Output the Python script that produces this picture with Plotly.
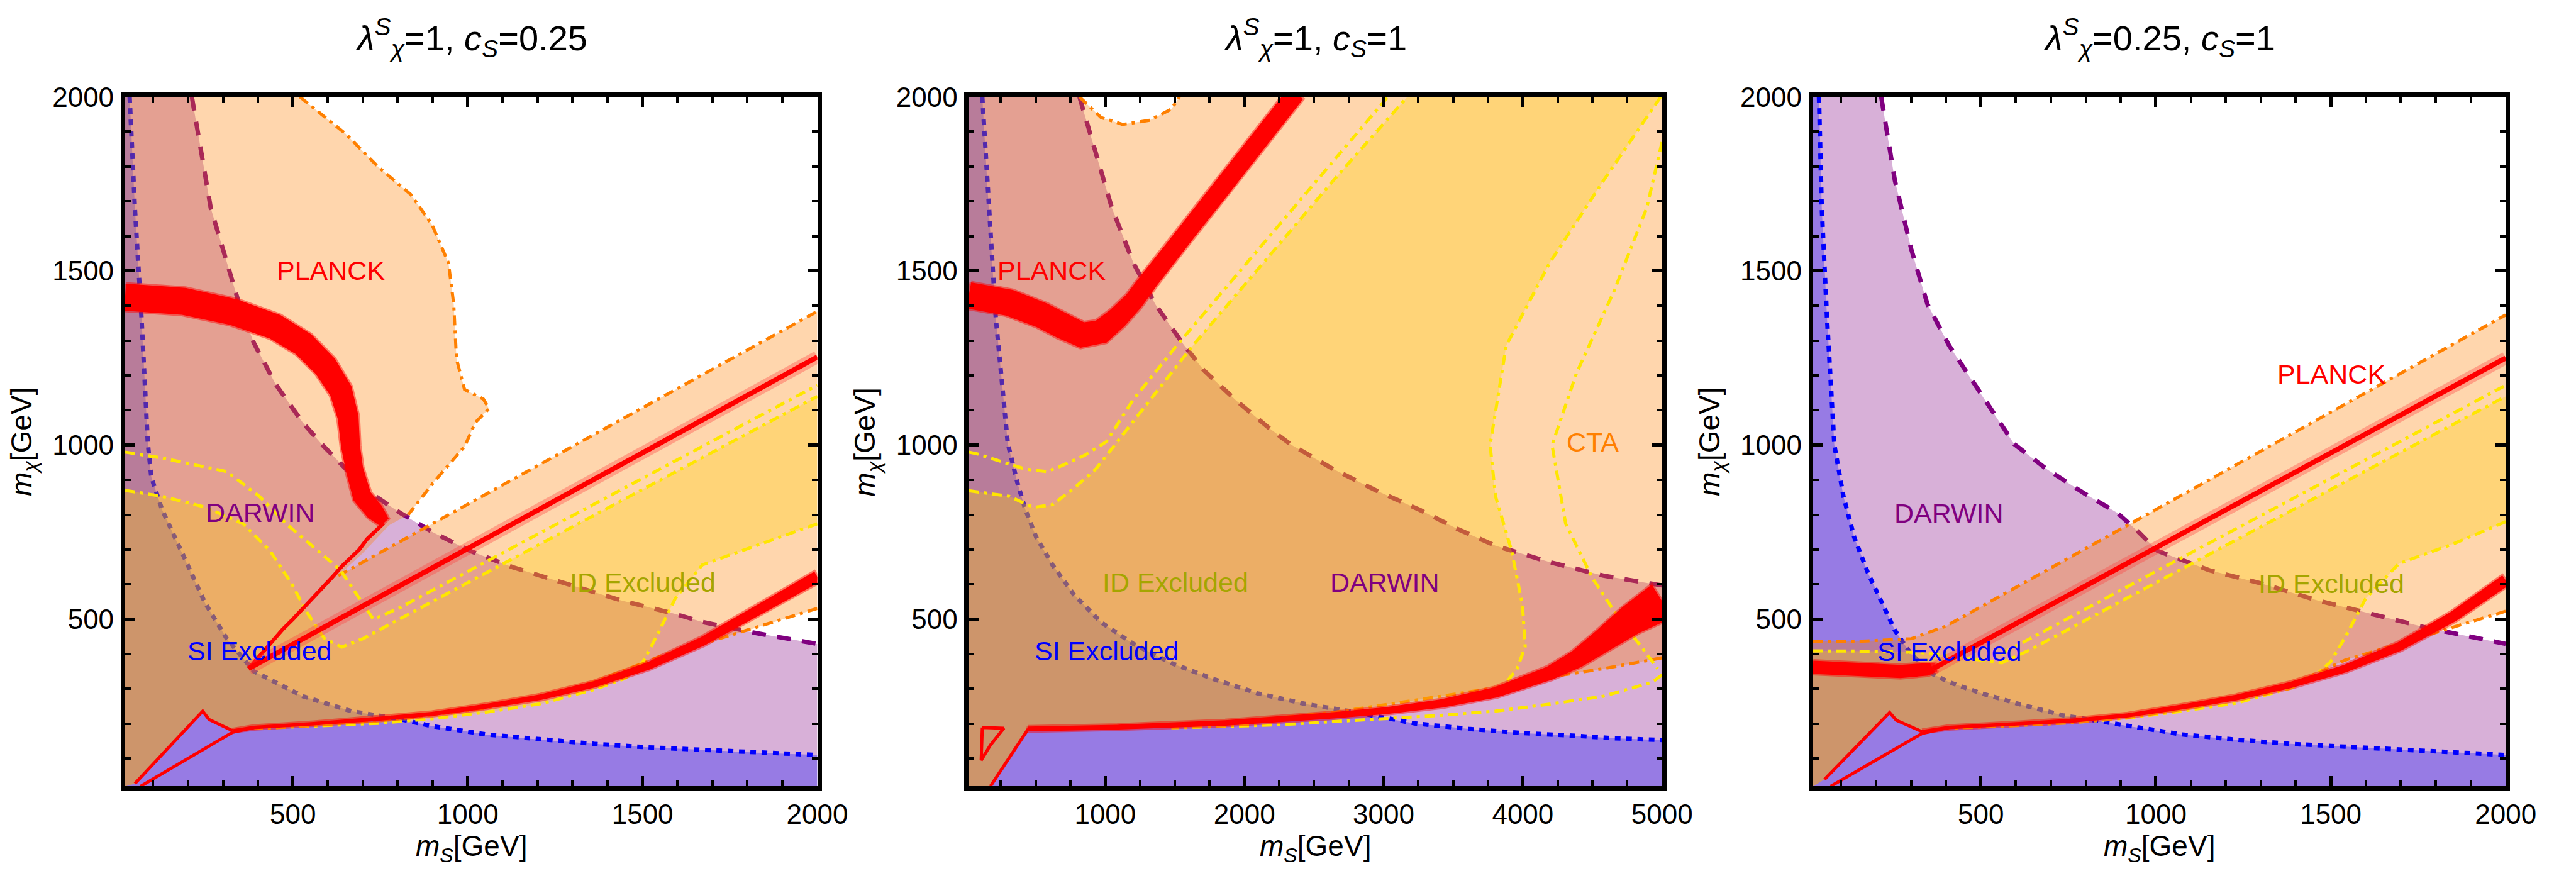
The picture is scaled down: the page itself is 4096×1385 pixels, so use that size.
import math
import plotly.graph_objects as go

W, H = 4096, 1385
FONT = "Liberation Sans, Arial, sans-serif"

# ---------------- axis setup ----------------
X_RANGES = [[20, 2000], [20, 5000], [20, 2000]]
Y_RANGE = [20, 2000]
X_DTICK = [500, 1000, 500]
X_MINOR = [100, 250, 100]
Y_DTICK, Y_MINOR = 500, 100
PANEL_TITLES = [
    "<i>λ</i><sup><i>S</i></sup><sub><i>χ</i></sub>=1, <i>c</i><sub><i>S</i></sub>=0.25",
    "<i>λ</i><sup><i>S</i></sup><sub><i>χ</i></sub>=1, <i>c</i><sub><i>S</i></sub>=1",
    "<i>λ</i><sup><i>S</i></sup><sub><i>χ</i></sub>=0.25, <i>c</i><sub><i>S</i></sub>=1",
]
X_TITLE = "<i>m</i><sub><i>S</i></sub>[GeV]"
Y_TITLE = "<i>m</i><sub><i>χ</i></sub>[GeV]"

# ---------------- panel 1 : lambda=1, c_S=0.25 ----------------
p1_si_x = [33, 48, 67, 85, 95, 126, 188, 249, 311, 389, 528, 667, 806, 898, 1053, 1208, 1362, 1517, 1671, 1826, 2000]
p1_si_y = [2000, 1681, 1365, 1005, 908, 814, 680, 546, 444, 350, 279, 236, 213, 193, 169, 154, 142, 132, 125, 117, 110]
p1_dw_x = [211, 265, 342, 388, 450, 528, 585, 713, 806, 898, 1007, 1130, 1285, 1439, 1594, 1671, 1826, 2000]
p1_dw_y = [2000, 1681, 1420, 1294, 1176, 1065, 1000, 869, 806, 751, 696, 649, 601, 554, 515, 492, 460, 429]
p1_or_blob_x = [520, 651, 744, 837, 898, 945, 960, 968, 991, 1045, 1061, 1022, 991, 900, 830]
p1_or_blob_y = [2000, 1894, 1799, 1720, 1633, 1523, 1405, 1247, 1160, 1132, 1105, 1065, 996, 890, 800]
p1_or_wedge_x = [775, 700]
p1_or_wedge_y = [770, 690]
p1_or_up_x = [630, 1300, 2000]
p1_or_up_y = [625, 996, 1384]
p1_or_low_x = [2000, 1826, 1671, 1594, 1517, 1362, 1208, 1053, 898, 806, 700, 560, 450, 389]
p1_or_low_y = [531, 476, 429, 410, 380, 320, 275, 245, 225, 214, 207, 200, 195, 190]
p1_tri_left_x = [327, 260, 242, 48]
p1_tri_left_y = [180, 212, 236, 28]
p1_ye_a_x = [20, 126, 249, 358, 435, 497, 540, 590, 640, 700, 1000, 1500, 2000]
p1_ye_a_y = [870, 853, 822, 774, 696, 601, 520, 445, 420, 444, 605, 872, 1140]
p1_ye_b_x = [20, 126, 311, 404, 481, 589, 636, 690, 730, 800, 1200, 2000]
p1_ye_b_y = [980, 963, 924, 853, 774, 680, 641, 560, 500, 530, 744, 1172]
p1_ye_c_x = [2000, 1826, 1671, 1594, 1540, 1500, 1450, 1362, 1208, 1053, 898, 744, 600, 480, 389]
p1_ye_c_y = [774, 711, 656, 560, 450, 375, 330, 298, 257, 233, 214, 201, 194, 189, 186]
p1_arc_x = [20, 188, 330, 449, 530, 593, 637, 658, 665, 676, 698, 735, 762]
p1_arc_y = [1425, 1413, 1382, 1340, 1290, 1226, 1156, 1080, 996, 931, 853, 808, 778]
p1_arc_h = [39, 39, 38, 37, 36, 35, 33, 30, 27, 25, 27, 26, 16]
p1_jag_x = [760, 735, 712, 690, 668, 640, 612, 585, 556, 528, 500, 470, 440, 410, 373]
p1_jag_y = [776, 752, 730, 700, 680, 652, 620, 590, 560, 530, 500, 470, 435, 400, 358]
p1_thin_x = [373, 1000, 2000]
p1_thin_y = [358, 703, 1253]
p1_low_x = [327, 389, 560, 744, 898, 1053, 1208, 1362, 1517, 1671, 1826, 2000]
p1_low_y = [180, 189, 200, 214, 228, 250, 276, 313, 366, 436, 523, 622]
p1_low_h = [4, 5, 5, 6, 6, 7, 8, 9, 11, 13, 15, 17]
p1_tri_x = [64, 327, 389]
p1_tri_y = [20, 175, 189]
p1_lbl_text = ["PLANCK", "DARWIN", "SI Excluded", "ID Excluded"]
p1_lbl_x = [608, 407, 404, 1501]
p1_lbl_y = [1501, 806, 409, 605]

# ---------------- panel 2 : lambda=1, c_S=1 ----------------
p2_si_x = [117, 163, 214, 300, 369, 427, 505, 621, 776, 971, 1203, 1475, 1786, 2096, 2445, 2756, 2989, 3221, 3610, 3998, 4386, 4658, 5000]
p2_si_y = [2000, 1681, 1365, 1005, 892, 814, 735, 656, 570, 491, 429, 374, 327, 287, 256, 236, 217, 201, 185, 173, 165, 158, 153]
p2_dw_x = [815, 932, 1048, 1203, 1359, 1553, 1708, 1941, 2174, 2329, 2639, 2950, 3260, 3532, 3804, 4192, 4580, 5000]
p2_dw_y = [2000, 1839, 1681, 1523, 1405, 1294, 1215, 1128, 1050, 1003, 931, 869, 814, 759, 711, 664, 625, 597]
p2_or_cap_x = [815, 970, 1126, 1320, 1475, 1533]
p2_or_cap_y = [2000, 1941, 1921, 1933, 1965, 2000]
p2_or_low_x = [5000, 4580, 4192, 3804, 3415, 3027, 2639, 2251, 1863, 1475, 1087, 854, 447]
p2_or_low_y = [389, 358, 334, 303, 279, 256, 232, 217, 205, 197, 193, 189, 185]
p2_diag_x = [447, 175]
p2_diag_y = [185, 20]
p2_ye_a_x = [20, 311, 485, 621, 776, 932, 1087, 1320, 1630, 2135, 2639, 3170]
p2_ye_a_y = [869, 853, 821, 829, 876, 931, 1010, 1128, 1286, 1523, 1760, 2000]
p2_ye_b_x = [20, 78, 427, 582, 699, 854, 1009, 1200, 1514, 2018, 2523, 3030]
p2_ye_b_y = [980, 975, 931, 924, 943, 971, 1010, 1130, 1286, 1523, 1760, 2000]
p2_ye_c_x = [4990, 4580, 4192, 3881, 3765, 3804, 3920, 3998, 4017, 3959, 3881]
p2_ye_c_y = [2000, 1760, 1523, 1286, 1000, 853, 696, 539, 421, 358, 318]
p2_ye_bot_x = [3415, 3027, 2639, 2251, 1863, 1475, 1087, 854, 447]
p2_ye_bot_y = [258, 238, 224, 212, 202, 196, 190, 189, 185]
p2_ye_d_x = [5000, 4890, 4657, 4386, 4210, 4308, 4502, 4696, 4851, 4968]
p2_ye_d_y = [1870, 1681, 1444, 1207, 1000, 774, 617, 499, 421, 358]
p2_ye_e_x = [5000, 4929, 4580, 4192, 3804, 3415, 3027, 2639, 2251, 1863, 1475]
p2_ye_e_y = [340, 319, 279, 256, 236, 224, 215, 205, 197, 192, 188]
p2_band_x = [20, 311, 544, 699, 835, 971, 1087, 1203, 1320, 1475, 1630, 1786, 1941, 2096, 2251, 2370]
p2_band_y = [1430, 1409, 1373, 1341, 1316, 1326, 1365, 1413, 1476, 1555, 1634, 1712, 1791, 1870, 1949, 2010]
p2_band_h = [38, 38, 37, 37, 37, 35, 31, 28, 27, 26, 26, 26, 26, 26, 26, 26]
p2_low_x = [447, 1087, 1863, 2639, 3027, 3415, 3804, 4192, 4386, 4580, 4774, 5000]
p2_low_y = [185, 190, 202, 224, 238, 258, 290, 345, 385, 440, 497, 552]
p2_low_h = [7, 7, 8, 9, 10, 12, 15, 20, 26, 34, 44, 56]
p2_tri_x = [117, 272, 175, 109, 117]
p2_tri_y = [189, 187, 138, 95, 189]
p2_lbl_text = ["PLANCK", "ID Excluded", "DARWIN", "SI Excluded", "CTA"]
p2_lbl_x = [614, 1506, 3008, 1009, 4502]
p2_lbl_y = [1501, 605, 605, 409, 1009]

# ---------------- panel 3 : lambda=0.25, c_S=1 ----------------
p3_si_x = [37, 45, 60, 81, 107, 138, 177, 215, 254, 300, 363, 409, 502, 610, 734, 827, 920, 1075, 1230, 1385, 1540, 1695, 1849, 2000]
p3_si_y = [2000, 1681, 1365, 1000, 853, 735, 633, 554, 468, 400, 342, 319, 287, 256, 224, 209, 193, 169, 154, 142, 134, 126, 118, 110]
p3_dw_x = [215, 254, 301, 347, 409, 486, 564, 595, 688, 796, 889, 950, 1005, 1152, 1307, 1462, 1617, 1772, 2000]
p3_dw_y = [2000, 1760, 1562, 1405, 1286, 1168, 1049, 1003, 931, 861, 806, 751, 696, 641, 601, 554, 515, 476, 429]
p3_or_up_x = [20, 146, 301, 400, 610, 889, 1323, 2000]
p3_or_up_y = [436, 436, 444, 480, 597, 753, 996, 1374]
p3_or_low_x = [2000, 1849, 1695, 1540, 1385, 1230, 1075, 920, 765, 610, 455, 409]
p3_or_low_y = [523, 476, 429, 382, 311, 272, 244, 224, 209, 201, 193, 189]
p3_tri_left_x = [332, 258, 239, 53]
p3_tri_left_y = [177, 210, 232, 40]
p3_ye_a_x = [20, 200, 330, 450, 560, 640, 1000, 1500, 2000]
p3_ye_a_y = [409, 408, 404, 390, 375, 412, 605, 872, 1140]
p3_ye_b_x = [560, 640, 1000, 1500, 2000]
p3_ye_b_y = [402, 444, 637, 904, 1172]
p3_ye_c_x = [2000, 1849, 1695, 1600, 1545, 1500, 1450, 1385, 1230, 1075, 920, 765, 610, 455, 409]
p3_ye_c_y = [780, 716, 660, 560, 455, 378, 333, 302, 259, 236, 216, 203, 195, 190, 187]
p3_flat_x = [20, 146, 270, 347, 372]
p3_flat_y = [362, 356, 350, 356, 362]
p3_flat_h = [19, 19, 19, 18, 12]
p3_thin_x = [363, 1000, 2000]
p3_thin_y = [358, 704, 1250]
p3_low_x = [332, 409, 610, 765, 920, 1075, 1230, 1385, 1540, 1695, 1849, 2000]
p3_low_y = [178, 189, 200, 209, 224, 248, 275, 311, 358, 421, 507, 612]
p3_low_h = [4, 5, 5, 6, 6, 7, 8, 9, 11, 13, 15, 17]
p3_tri_x = [70, 332, 409]
p3_tri_y = [20, 172, 189]
p3_lbl_text = ["PLANCK", "DARWIN", "SI Excluded", "ID Excluded"]
p3_lbl_x = [1501, 409, 409, 1501]
p3_lbl_y = [1203, 804, 407, 603]

# ---------------- styles ----------------
SI_FILL = "rgba(0,0,255,0.30)"
DW_FILL = "rgba(128,0,128,0.31)"
OR_FILL = "rgba(255,128,0,0.32)"
YE_FILL = "rgba(255,210,0,0.30)"
SI_LINE = "rgb(0,0,255)"
DW_LINE = "rgb(128,0,128)"
OR_LINE = "rgb(255,128,0)"
YE_LINE = "rgb(255,230,0)"
RED = "rgb(255,0,0)"
RED_SOFT = "rgba(255,0,0,0.45)"
LABEL_COLORS = {"PLANCK": "rgb(255,0,0)", "DARWIN": "rgb(128,0,128)",
                "SI Excluded": "rgb(0,0,255)", "ID Excluded": "rgb(165,165,0)",
                "CTA": "rgb(255,128,0)"}
DOT = "9px,9px"
DASH = "22px,18px"
DOTDASH = "16px,8px,5px,8px"

PANEL_PX = [(201.3, 1315.3), (1559.1, 2674.7), (2917.7, 4032.5)]
TOP_PX, BOTTOM_PX = 131.5, 1247.9

fig = go.Figure()


def axes(i):
    return ("x" if i == 1 else f"x{i}"), ("y" if i == 1 else f"y{i}")


def px_scale(i):
    left, right = PANEL_PX[i - 1]
    x0, x1 = X_RANGES[i - 1]
    return (right - left) / (x1 - x0), (BOTTOM_PX - TOP_PX) / (Y_RANGE[1] - Y_RANGE[0])


def add_fill(i, xs, ys, color):
    xa, ya = axes(i)
    fig.add_trace(go.Scatter(x=xs, y=ys, xaxis=xa, yaxis=ya, mode="lines", fill="toself",
                             fillcolor=color, line=dict(width=0, color=color),
                             hoverinfo="skip", showlegend=False))


def add_line(i, xs, ys, color, width, dash="solid"):
    xa, ya = axes(i)
    fig.add_trace(go.Scatter(x=xs, y=ys, xaxis=xa, yaxis=ya, mode="lines",
                             line=dict(color=color, width=width, dash=dash),
                             hoverinfo="skip", showlegend=False))


def add_band(i, xc, yc, hw):
    """Filled stroke around a centre line; hw is the half thickness in y units,
    applied perpendicular to the curve on screen."""
    kx, ky = px_scale(i)
    n = len(xc)
    top_x, top_y, bot_x, bot_y = [], [], [], []
    for j in range(n):
        a, b = max(j - 1, 0), min(j + 1, n - 1)
        tx = (xc[b] - xc[a]) * kx
        ty = (yc[b] - yc[a]) * ky
        norm = math.hypot(tx, ty) or 1.0
        nx, ny = -ty / norm, tx / norm
        h = hw[j] * ky
        top_x.append(xc[j] + nx * h / kx)
        top_y.append(yc[j] + ny * h / ky)
        bot_x.append(xc[j] - nx * h / kx)
        bot_y.append(yc[j] - ny * h / ky)
    xs = top_x + bot_x[::-1]
    ys = top_y + bot_y[::-1]
    add_fill(i, xs, ys, RED)
    add_line(i, xs + [xs[0]], ys + [ys[0]], RED_SOFT, 5)


def add_glow_line(i, xs, ys):
    add_line(i, xs, ys, "rgba(255,60,60,0.35)", 20)
    add_line(i, xs, ys, RED, 8)


def below_curve(i, bx, by):
    x0, x1 = X_RANGES[i - 1]
    y0, y1 = Y_RANGE
    return [x0] + bx + [x1, x0], [y1] + by + [y0, y0]


# ---------- panel 1 ----------
xs, ys = below_curve(1, p1_dw_x, p1_dw_y)
add_fill(1, xs, ys, DW_FILL)
add_line(1, p1_dw_x, p1_dw_y, DW_LINE, 7, DASH)
xs, ys = below_curve(1, p1_si_x, p1_si_y)
add_fill(1, xs, ys, SI_FILL)
add_line(1, p1_si_x, p1_si_y, SI_LINE, 7, DOT)
add_fill(1, [20] + p1_or_blob_x + p1_or_wedge_x + p1_or_up_x + p1_or_low_x + p1_tri_left_x + [20],
         [2000] + p1_or_blob_y + p1_or_wedge_y + p1_or_up_y + p1_or_low_y + p1_tri_left_y + [20], OR_FILL)
add_line(1, p1_or_blob_x, p1_or_blob_y, OR_LINE, 5, DOTDASH)
add_line(1, p1_or_up_x, p1_or_up_y, OR_LINE, 5, DOTDASH)
add_line(1, p1_or_low_x, p1_or_low_y, OR_LINE, 5, DOTDASH)
add_fill(1, p1_ye_a_x + p1_ye_c_x + p1_tri_left_x + [20],
         p1_ye_a_y + p1_ye_c_y + p1_tri_left_y + [20], YE_FILL)
add_line(1, p1_ye_a_x, p1_ye_a_y, YE_LINE, 5, DOTDASH)
add_line(1, p1_ye_b_x, p1_ye_b_y, YE_LINE, 5, DOTDASH)
add_line(1, p1_ye_c_x, p1_ye_c_y, YE_LINE, 5, DOTDASH)
add_band(1, p1_arc_x, p1_arc_y, p1_arc_h)
add_line(1, p1_jag_x, p1_jag_y, RED, 6)
add_glow_line(1, p1_thin_x, p1_thin_y)
add_band(1, p1_low_x, p1_low_y, p1_low_h)
add_line(1, p1_tri_left_x[::-1], p1_tri_left_y[::-1], RED, 5)
add_line(1, p1_tri_x, p1_tri_y, RED, 5)

# ---------- panel 2 ----------
xs, ys = below_curve(2, p2_dw_x, p2_dw_y)
add_fill(2, xs, ys, DW_FILL)
add_line(2, p2_dw_x, p2_dw_y, DW_LINE, 7, DASH)
xs, ys = below_curve(2, p2_si_x, p2_si_y)
add_fill(2, xs, ys, SI_FILL)
add_line(2, p2_si_x, p2_si_y, SI_LINE, 7, DOT)
add_fill(2, [20] + p2_or_cap_x + [5000] + p2_or_low_x + p2_diag_x[1:] + [20],
         [2000] + p2_or_cap_y + [2000] + p2_or_low_y + p2_diag_y[1:] + [20], OR_FILL)
add_line(2, p2_or_cap_x, p2_or_cap_y, OR_LINE, 5, DOTDASH)
add_line(2, p2_or_low_x, p2_or_low_y, OR_LINE, 5, DOTDASH)
add_fill(2, p2_ye_a_x + p2_ye_c_x + p2_ye_bot_x + p2_diag_x[1:] + [20],
         p2_ye_a_y + p2_ye_c_y + p2_ye_bot_y + p2_diag_y[1:] + [20], YE_FILL)
add_line(2, p2_ye_a_x, p2_ye_a_y, YE_LINE, 5, DOTDASH)
add_line(2, p2_ye_b_x, p2_ye_b_y, YE_LINE, 5, DOTDASH)
add_line(2, p2_ye_c_x, p2_ye_c_y, YE_LINE, 5, DOTDASH)
add_line(2, p2_ye_d_x, p2_ye_d_y, YE_LINE, 5, DOTDASH)
add_line(2, p2_ye_e_x, p2_ye_e_y, YE_LINE, 5, DOTDASH)
add_band(2, p2_band_x, p2_band_y, p2_band_h)
add_band(2, p2_low_x, p2_low_y, p2_low_h)
add_line(2, p2_diag_x, p2_diag_y, RED, 5)
add_line(2, p2_tri_x, p2_tri_y, RED, 5)

# ---------- panel 3 ----------
xs, ys = below_curve(3, p3_dw_x, p3_dw_y)
add_fill(3, xs, ys, DW_FILL)
add_line(3, p3_dw_x, p3_dw_y, DW_LINE, 7, DASH)
xs, ys = below_curve(3, p3_si_x, p3_si_y)
add_fill(3, xs, ys, SI_FILL)
add_line(3, p3_si_x, p3_si_y, SI_LINE, 7, DOT)
add_fill(3, p3_or_up_x + p3_or_low_x + p3_tri_left_x + [20],
         p3_or_up_y + p3_or_low_y + p3_tri_left_y + [20], OR_FILL)
add_line(3, p3_or_up_x, p3_or_up_y, OR_LINE, 5, DOTDASH)
add_line(3, p3_or_low_x, p3_or_low_y, OR_LINE, 5, DOTDASH)
add_fill(3, p3_ye_a_x + p3_ye_c_x + p3_tri_left_x + [20],
         p3_ye_a_y + p3_ye_c_y + p3_tri_left_y + [20], YE_FILL)
add_line(3, p3_ye_a_x, p3_ye_a_y, YE_LINE, 5, DOTDASH)
add_line(3, p3_ye_b_x, p3_ye_b_y, YE_LINE, 5, DOTDASH)
add_line(3, p3_ye_c_x, p3_ye_c_y, YE_LINE, 5, DOTDASH)
add_band(3, p3_flat_x, p3_flat_y, p3_flat_h)
add_glow_line(3, p3_thin_x, p3_thin_y)
add_band(3, p3_low_x, p3_low_y, p3_low_h)
add_line(3, p3_tri_left_x[::-1], p3_tri_left_y[::-1], RED, 5)
add_line(3, p3_tri_x, p3_tri_y, RED, 5)

# ---------------- layout ----------------
y_dom = [1 - BOTTOM_PX / H, 1 - TOP_PX / H]

tick_font = dict(family=FONT, size=44, color="black")
layout = dict(width=W, height=H, margin=dict(l=0, r=0, t=0, b=0),
              plot_bgcolor="white", paper_bgcolor="white", showlegend=False)
annotations = []
for i in range(3):
    n = "" if i == 0 else str(i + 1)
    left, right = PANEL_PX[i]
    common = dict(ticks="inside", ticklen=16, tickwidth=5, tickcolor="black",
                  showline=True, linewidth=7, linecolor="black", mirror="allticks",
                  showgrid=False, zeroline=False, tickfont=tick_font)
    layout["xaxis" + n] = dict(domain=[left / W, right / W], range=X_RANGES[i],
                               anchor="y" + n, tick0=0, dtick=X_DTICK[i],
                               ticklabelstandoff=0,
                               minor=dict(tick0=0, dtick=X_MINOR[i], ticks="inside", ticklen=9,
                                          tickwidth=4, tickcolor="black", showgrid=False),
                               **common)
    layout["yaxis" + n] = dict(domain=y_dom, range=Y_RANGE, anchor="x" + n,
                               tick0=0, dtick=Y_DTICK, ticklabelstandoff=2,
                               minor=dict(tick0=0, dtick=Y_MINOR, ticks="inside", ticklen=9,
                                          tickwidth=4, tickcolor="black", showgrid=False),
                               **common)
    cx = (left + right) / 2 / W
    annotations.append(dict(text=PANEL_TITLES[i], x=cx, y=1 - 36 / H, xref="paper", yref="paper",
                            xanchor="center", yanchor="middle", showarrow=False,
                            font=dict(family=FONT, size=56, color="black")))
    annotations.append(dict(text=X_TITLE, x=cx, y=1 - 1348 / H, xref="paper", yref="paper",
                            xanchor="center", yanchor="middle", showarrow=False,
                            font=dict(family=FONT, size=46, color="black")))
    annotations.append(dict(text=Y_TITLE, x=(left - 164) / W, y=1 - (TOP_PX + BOTTOM_PX) / 2 / H,
                            xref="paper", yref="paper", xanchor="center", yanchor="middle",
                            textangle=-90, showarrow=False,
                            font=dict(family=FONT, size=46, color="black")))

for i, (texts, lx, ly) in enumerate([(p1_lbl_text, p1_lbl_x, p1_lbl_y),
                                      (p2_lbl_text, p2_lbl_x, p2_lbl_y),
                                      (p3_lbl_text, p3_lbl_x, p3_lbl_y)]):
    xa, ya = axes(i + 1)
    for t, x, y in zip(texts, lx, ly):
        annotations.append(dict(text=t, x=x, y=y, xref=xa, yref=ya, showarrow=False,
                                xanchor="center", yanchor="middle",
                                font=dict(family=FONT, size=43, color=LABEL_COLORS[t])))

layout["annotations"] = annotations
fig.update_layout(**layout)
fig.write_html("out.html")
